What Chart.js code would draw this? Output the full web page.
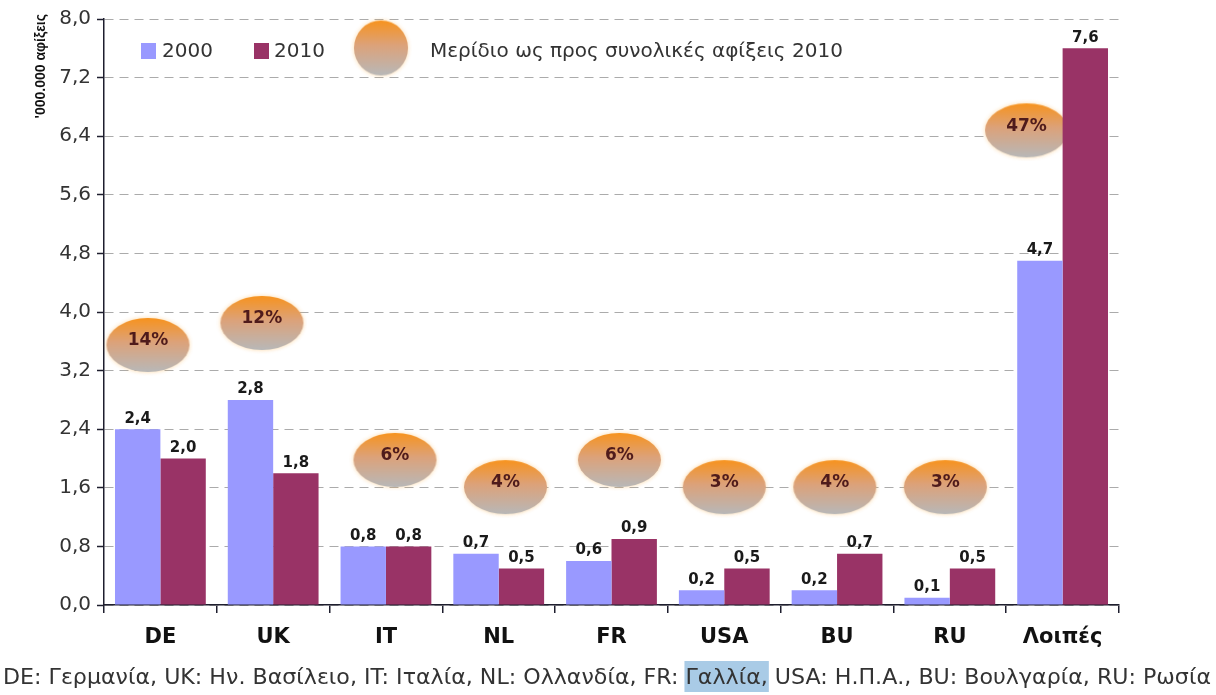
<!DOCTYPE html>
<html>
<head>
<meta charset="utf-8">
<script src="https://cdn.jsdelivr.net/npm/chart.js@4.4.0/dist/chart.umd.min.js"></script>
<style>
  html, body { margin: 0; padding: 0; background: #fff; }
  #wrap { position: relative; width: 1216px; height: 695px; }
</style>
</head>
<body>
<div id="wrap"><canvas id="arrivals" width="1216" height="695"></canvas></div>
<script>
// arrivals per origin country, millions
const countries = ['DE', 'UK', 'IT', 'NL', 'FR', 'USA', 'BU', 'RU', 'Λοιπές'];
const arrivals2000 = [2.4, 2.8, 0.8, 0.7, 0.6, 0.2, 0.2, 0.1, 4.7];
const arrivals2010 = [2.0, 1.8, 0.8, 0.5, 0.9, 0.5, 0.7, 0.5, 7.6];
// share of total 2010 arrivals, %
const share2010 = [14, 12, 6, 4, 6, 3, 4, 3, 47];
const yMax = 8.0;
const yStep = 0.8;

const yTitle = "'000.000 αφίξεις";
const shareLabel = 'Μερίδιο ως προς συνολικές αφίξεις 2010';
const caption = 'DE: Γερμανία, UK: Ην. Βασίλειο, IT: Ιταλία, NL: Ολλανδία, FR: Γαλλία, USA: Η.Π.Α., BU: Βουλγαρία, RU: Ρωσία';
const markedWord = 'Γαλλία,';

// where the share badges sit: height on the value axis and sideways nudge in categories
const badgeLevel = [3.55, 3.85, 1.98, 1.61, 1.98, 1.61, 1.61, 1.61, 6.48];
const badgeNudge = [-0.11, -0.10, 0.08, 0.06, 0.07, 0.0, -0.02, -0.04, -0.32];

const FONT = '"DejaVu Sans", Tahoma, sans-serif';
const comma = v => v.toFixed(1).replace('.', ',');

function badgeCanvas(w, h) {
  const pad = 4;
  const c = document.createElement('canvas');
  c.width = w + pad * 2;
  c.height = h + pad * 2;
  const g = c.getContext('2d');
  const grad = g.createLinearGradient(0, pad, 0, pad + h);
  grad.addColorStop(0, '#f7931e');
  grad.addColorStop(0.45, '#dca27a');
  grad.addColorStop(1, '#b8b8b8');
  g.shadowColor = 'rgba(250, 170, 60, 0.45)';
  g.shadowBlur = 4;
  g.fillStyle = grad;
  g.beginPath();
  g.ellipse(c.width / 2, c.height / 2, w / 2, h / 2, 0, 0, Math.PI * 2);
  g.fill();
  return c;
}

const badge = badgeCanvas(83, 54);
const legendBadge = badgeCanvas(54, 55);

const chartDecor = {
  id: 'chartDecor',
  // share badges go under the bars
  beforeDatasetsDraw(chart) {
    const ctx = chart.ctx;
    const xs = chart.scales.x, ys = chart.scales.y;
    ctx.save();
    ctx.font = 'bold 17px ' + FONT;
    ctx.fillStyle = '#4f1b1b';
    ctx.textAlign = 'center';
    ctx.textBaseline = 'middle';
    share2010.forEach((s, i) => {
      const px = xs.getPixelForValue(i + badgeNudge[i]);
      const py = ys.getPixelForValue(badgeLevel[i]);
      ctx.drawImage(badge, px - badge.width / 2, py - badge.height / 2);
      ctx.fillText(s + '%', px, py - 4);
    });
    ctx.restore();
  },
  afterDatasetsDraw(chart) {
    const ctx = chart.ctx;
    ctx.save();
    // value labels on the bars
    ctx.font = 'bold 15px ' + FONT;
    ctx.fillStyle = '#1a1a1a';
    ctx.textAlign = 'center';
    ctx.textBaseline = 'bottom';
    chart.data.datasets.forEach((ds, di) => {
      chart.getDatasetMeta(di).data.forEach((bar, i) => {
        ctx.fillText(comma(ds.data[i]), bar.x, bar.y - 3);
      });
    });
    ctx.restore();
  },
  afterDraw(chart) {
    const ctx = chart.ctx;
    ctx.save();
    // legend inside the plot
    const ds = chart.data.datasets;
    ctx.font = '20px ' + FONT;
    ctx.textBaseline = 'middle';
    ctx.textAlign = 'left';
    ctx.fillStyle = ds[0].backgroundColor;
    ctx.fillRect(141, 43, 15, 16);
    ctx.fillStyle = '#333';
    ctx.fillText(ds[0].label, 162, 52);
    ctx.fillStyle = ds[1].backgroundColor;
    ctx.fillRect(254, 43, 15, 16);
    ctx.fillStyle = '#333';
    ctx.fillText(ds[1].label, 274, 52);
    ctx.drawImage(legendBadge, 381 - legendBadge.width / 2, 48 - legendBadge.height / 2);
    ctx.fillText(shareLabel, 430, 52);

    // axis title, running up the left edge
    ctx.save();
    ctx.translate(45, 14);
    ctx.rotate(-Math.PI / 2);
    ctx.font = 'bold 14px "Liberation Sans", Arial, sans-serif';
    ctx.fillStyle = '#111';
    ctx.textAlign = 'right';
    ctx.textBaseline = 'alphabetic';
    ctx.fillText(yTitle, 0, 0);
    ctx.restore();

    // country key under the axis
    ctx.font = '21px ' + FONT;
    ctx.textBaseline = 'alphabetic';
    const full = ctx.measureText(caption).width;
    const sx = 1208 / full;
    const at = caption.indexOf(markedWord);
    const before = ctx.measureText(caption.slice(0, at)).width;
    const wordW = ctx.measureText(markedWord).width;
    ctx.save();
    ctx.translate(3, 0);
    ctx.scale(sx, 1);
    ctx.fillStyle = '#a9cbe6';
    ctx.fillRect(before - 1, 661, wordW + 2, 31);
    ctx.fillStyle = '#333';
    ctx.fillText(caption, 0, 684);
    ctx.restore();
    ctx.restore();
  }
};

new Chart(document.getElementById('arrivals'), {
  type: 'bar',
  data: {
    labels: countries,
    datasets: [
      {
        label: '2000',
        data: arrivals2000,
        backgroundColor: '#9999ff',
        categoryPercentage: 0.805,
        barPercentage: 1.0
      },
      {
        label: '2010',
        data: arrivals2010,
        backgroundColor: '#993366',
        categoryPercentage: 0.805,
        barPercentage: 1.0
      }
    ]
  },
  options: {
    responsive: false,
    animation: false,
    layout: { padding: { top: 19, right: 97, bottom: 0, left: 0 } },
    plugins: {
      legend: { display: false },
      tooltip: { enabled: false }
    },
    scales: {
      x: {
        type: 'category',
        offset: true,
        border: { color: '#1e1e2e', width: 1.5 },
        grid: {
          drawOnChartArea: false,
          offset: true,
          tickLength: 8,
          color: '#1e1e2e',
          lineWidth: 1.5
        },
        ticks: {
          padding: 12,
          color: '#111',
          font: { family: FONT, size: 21, weight: 'bold' }
        },
        afterFit(scale) {
          scale.height = 90;
          scale.paddingLeft = 0;
          scale.paddingRight = 0;
        }
      },
      y: {
        min: 0,
        max: yMax,
        border: { color: '#1e1e2e', width: 1.5, dash: [9, 6] },
        grid: {
          color: '#ababab',
          lineWidth: 1,
          tickLength: 7,
          tickColor: '#1e1e2e',
          tickWidth: 1.5,
          tickBorderDash: []
        },
        ticks: {
          stepSize: yStep,
          padding: 6,
          color: '#333',
          font: { family: FONT, size: 20 },
          callback: v => comma(v)
        },
        afterFit(scale) {
          scale.width = 104;
          scale.paddingTop = 0;
          scale.paddingBottom = 0;
        }
      }
    }
  },
  plugins: [chartDecor]
});
</script>
</body>
</html>
